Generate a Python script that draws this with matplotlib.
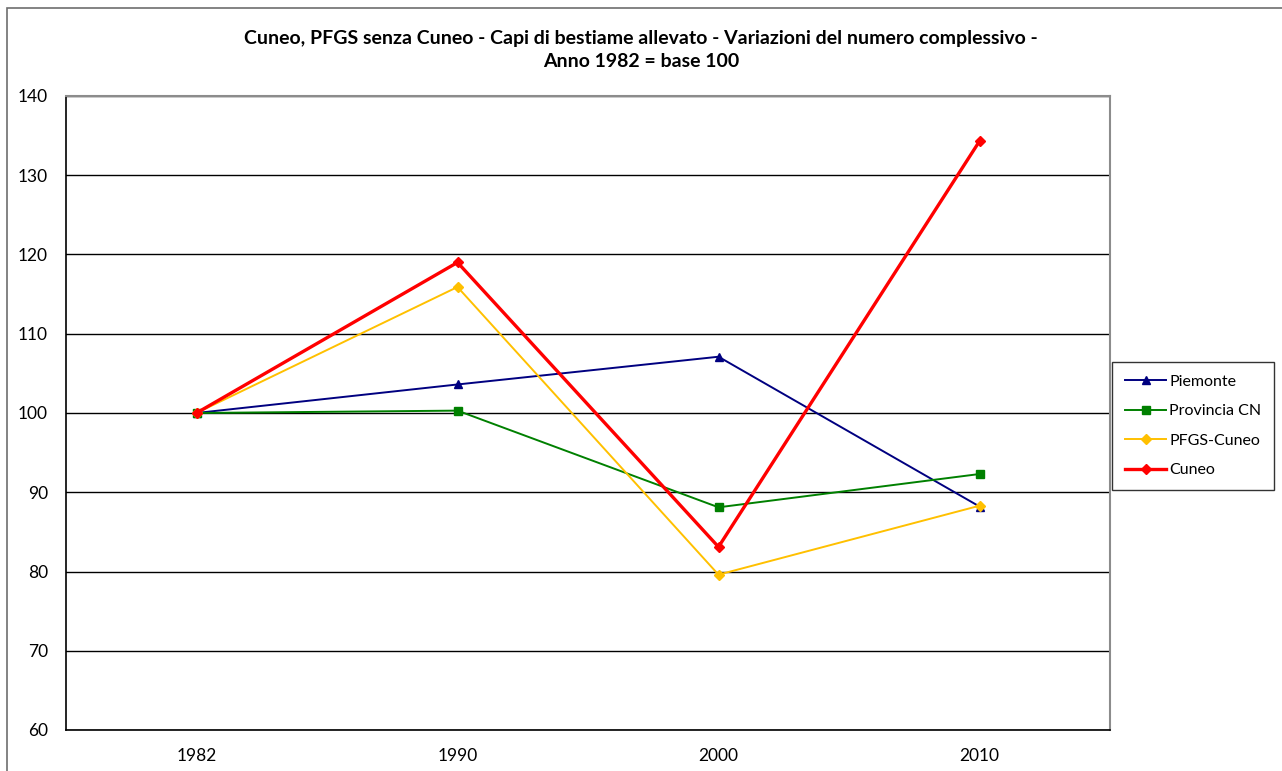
import numpy as np
import matplotlib.pyplot as plt
from matplotlib.patches import Rectangle

plt.rcParams['font.family'] = ['Lato', 'DejaVu Sans']

anni = ['1982', '1990', '2000', '2010']
piemonte = [100, 103.6, 107.1, 88.2]
provincia_cn = [100, 100.3, 88.1, 92.3]
pfgs_cuneo = [100, 115.9, 79.6, 88.3]
cuneo = [100, 119.0, 83.1, 134.3]

fig = plt.figure(figsize=(12.82, 7.71), dpi=100)
ax = fig.add_axes([66/1282, 41/771, 1044/1282, 634/771])

# cornice esterna del grafico
fig.patches.append(Rectangle((7/1282, -0.05), 1.1, (771-8)/771 + 0.05,
                             transform=fig.transFigure, fill=False,
                             edgecolor='#6e6e6e', linewidth=1.2))

x = np.arange(len(anni))
ax.plot(x, piemonte, color='#000080', lw=1.4, marker='^', ms=6, label='Piemonte')
ax.plot(x, provincia_cn, color='#008000', lw=1.4, marker='s', ms=6, label='Provincia CN')
ax.plot(x, pfgs_cuneo, color='#FFC000', lw=1.4, marker='D', ms=5, label='PFGS-Cuneo')
ax.plot(x, cuneo, color='#FF0000', lw=2.4, marker='D', ms=5, label='Cuneo')

ax.set_xlim(-0.5, 3.5)
ax.set_ylim(60, 140)
ax.set_yticks(range(60, 141, 10))
ax.set_xticks(x)
ax.set_xticklabels(anni)
ax.tick_params(axis='both', length=0, labelsize=12.5, pad=13)
ax.tick_params(axis='y', pad=13)
ax.yaxis.grid(True, color='black', lw=1)
ax.set_axisbelow(True)
for s in ['top', 'right']:
    ax.spines[s].set_color('#8c8c8c')
    ax.spines[s].set_linewidth(1.5)
for s in ['left', 'bottom']:
    ax.spines[s].set_color('black')
    ax.spines[s].set_linewidth(1.2)

fig.text(0.5, 1 - 50/771, 'Cuneo, PFGS senza Cuneo - Capi di bestiame allevato - Variazioni del numero complessivo -\nAnno 1982 = base 100',
         ha='center', va='center', fontsize=14, fontweight='bold', linespacing=1.45)

leg = ax.legend(loc='center left', bbox_to_anchor=(1104/1282, 1 - 426/771),
                bbox_transform=fig.transFigure, fontsize=11.5, frameon=True,
                fancybox=False, edgecolor='black', handlelength=2.6,
                handletextpad=0.2, labelspacing=0.95, borderpad=0.8)
leg.get_frame().set_linewidth(1)

fig.savefig('out.png', dpi=100)
